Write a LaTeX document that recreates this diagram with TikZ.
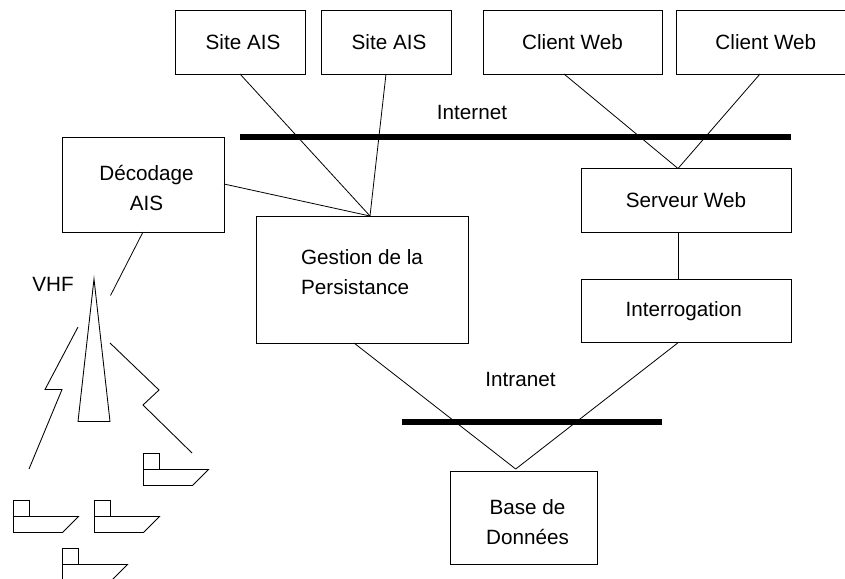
\documentclass[tikz,border=0pt]{standalone}
\usepackage{fontspec}
\setmainfont{Liberation Sans}
\begin{document}
\begin{tikzpicture}[x=0.75pt,y=-0.75pt,
  every node/.style={font=\fontsize{15.5}{22.5}\selectfont,inner sep=0pt,align=center},
  box/.style={draw=black,line width=0.65pt,fill=white},
  wire/.style={draw=black,line width=0.6pt},
  netbar/.style={draw=black,line width=4.8pt},
  outline/.style={draw=black,line width=0.65pt,line join=miter},
  pics/ship/.style={code={
    \draw[outline] (0,16) rectangle (16,0);
    \draw[outline] (0,16) -- (65,16) -- (49,32) -- (0,32) -- cycle;
  }}]
\useasboundingbox (0,0) rectangle (845,578);
\clip (0,0) rectangle (845,578);

\coordinate (hub) at (370,216);
\coordinate (webhub) at (678,168.5);
\coordinate (dbhub) at (515.7,469);
\coordinate (s1) at (240,74);
\coordinate (s2) at (386,74);
\coordinate (c1) at (564,74);
\coordinate (c2) at (760,74);
\coordinate (dec) at (224,184);
\coordinate (gp) at (354,343);
\coordinate (ip) at (677.7,343);
\coordinate (inetL) at (240,137);
\coordinate (inetR) at (791,137);
\coordinate (intraL) at (402,421.7);
\coordinate (intraR) at (662,421.7);
\coordinate (decS) at (143,232);
\coordinate (antE) at (110.5,295.5);

\node[box,minimum width=97.5pt,minimum height=48pt] (site1) at (240,42) {\hspace*{4.5pt}Site AIS};
\node[box,minimum width=97.5pt,minimum height=48pt] (site2) at (386,42) {\hspace*{4.5pt}Site AIS};
\node[box,minimum width=134.25pt,minimum height=48pt] (client1) at (572.5,42) {Client Web};
\node[box,minimum width=126.75pt,minimum height=48pt] (client2) at (760.5,42) {\hspace*{8pt}Client Web};
\node[box,minimum width=121.5pt,minimum height=71.25pt,
  label={[xshift=2.6pt,yshift=-2.6pt]center:Décodage\\AIS}] (decodage) at (143,184.5) {};
\node[box,minimum width=159pt,minimum height=95.25pt,
  label={[align=left,yshift=5.5pt]center:Gestion de la\\Persistance}] (gestion) at (362,279.5) {};
\node[box,minimum width=157.5pt,minimum height=47.6pt] (serveur) at (686,200.3) {Serveur Web};
\node[box,minimum width=157.5pt,minimum height=47.6pt,
  label={[xshift=-1.7pt]center:Interrogation}] (interro) at (686,311) {};
\node[box,minimum width=110.25pt,minimum height=69.2pt,
  label={[xshift=2.8pt,yshift=-3pt]center:Base de\\Données}] (base) at (523.8,518) {};

\node (internet) at (472,112) {Internet};
\node (intranet) at (520.5,379.5) {Intranet};
\node (vhf) at (53,284) {VHF};

\draw[netbar] (inetL) -- (inetR);
\draw[netbar] (intraL) -- (intraR);

\draw[wire] (s1) -- (hub);
\draw[wire] (s2) -- (hub);
\draw[wire] (dec) -- (hub);
\draw[wire] (c1) -- (webhub);
\draw[wire] (c2) -- (webhub);
\draw[wire] (serveur.south -| webhub) -- (interro.north -| webhub);
\draw[wire] (gp) -- (dbhub);
\draw[wire] (ip) -- (dbhub);
\draw[wire] (decS) -- (antE);

\draw[outline] (94,279) -- (110,421.5) -- (78,421.5) -- cycle;
\draw[outline] (78,327) -- (45,389.5) -- (62,389.5) -- (29,469);
\draw[outline] (110,343) -- (159,390) -- (143,405) -- (192,453);

\pic at (143.5,453.5) {ship};
\pic at (13.5,500.5) {ship};
\pic at (94.5,500.5) {ship};
\pic at (62.5,548.5) {ship};
\end{tikzpicture}
\end{document}
